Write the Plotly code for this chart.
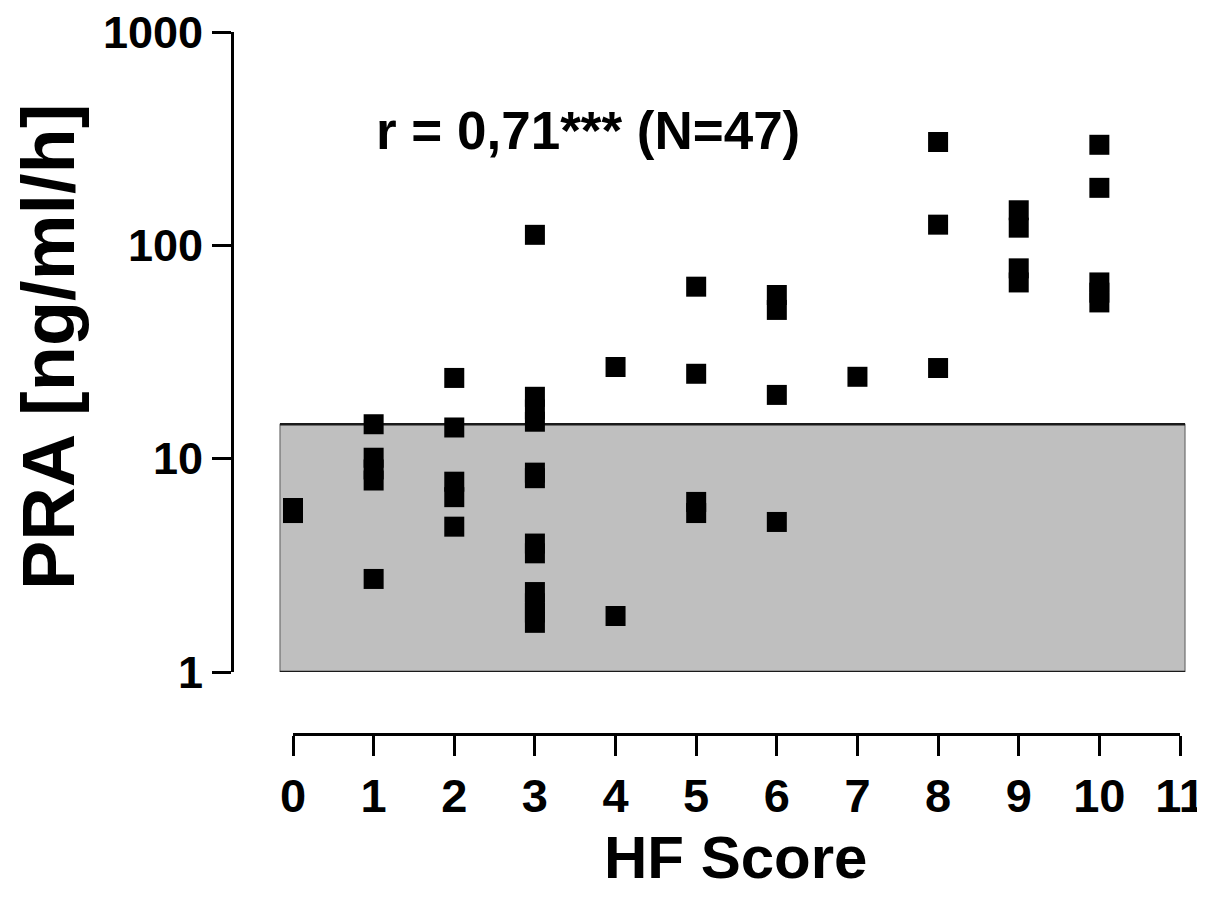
import plotly.graph_objects as go

# ---- data ----
hf_score = [0, 0,
            1, 1, 1, 1, 1,
            2, 2, 2, 2, 2,
            3, 3, 3, 3, 3, 3, 3, 3, 3, 3, 3, 3,
            4, 4,
            5, 5, 5, 5,
            6, 6, 6, 6,
            7,
            8, 8, 8,
            9, 9, 9, 9,
            10, 10, 10, 10, 10]
pra = [5.87, 5.56,
       14.5, 10.1, 8.9, 7.9, 2.73,
       23.9, 14.0, 7.8, 6.6, 4.8,
       112, 19.5, 17.0, 14.9, 8.6, 8.1, 4.0, 3.6, 2.37, 2.1, 1.9, 1.70,
       26.9, 1.83,
       64, 25, 6.27, 5.56,
       58.5, 49.8, 19.9, 5.05,
       24.2,
       305, 125, 26.6,
       146, 121, 78, 67,
       296, 186, 67, 60, 54]

normal_low = 1.0
normal_high = 14.5

x_ticks = list(range(0, 12))
y_tickvals = [1, 10, 100, 1000]
y_ticktext = ["1", "10", "100", "1000"]

annotation_text = "r = 0,71*** (N=47)"
x_title = "HF Score"
y_title = "PRA [ng/ml/h]"

# ---- layout geometry (page pixels; the page body has an 8px margin) ----
OFF = 8
W, H = 1205 - OFF, 905 - OFF
def px(x):
    return (x - OFF) / W
def py(y):
    return 1 - (y - OFF) / H

FONT = "Liberation Sans, Arial, Helvetica, sans-serif"

fig = go.Figure()

fig.add_trace(go.Scatter(
    x=hf_score, y=pra, mode="markers",
    marker=dict(symbol="square", size=20, color="black", line=dict(width=0)),
    showlegend=False, hoverinfo="x+y",
))
# empty trace to attach the visible, offset x axis
fig.add_trace(go.Scatter(x=[], y=[], xaxis="x2", yaxis="y", showlegend=False))

# normal-range band
fig.add_shape(type="rect", xref="x domain", yref="y", x0=0, x1=1,
              y0=normal_low, y1=normal_high, fillcolor="#bfbfbf",
              line=dict(color="#6e6e6e", width=1.2), layer="below")
fig.add_shape(type="line", xref="x domain", yref="y", x0=0, x1=1,
              y0=normal_high, y1=normal_high, line=dict(color="#1a1a1a", width=2.5), layer="below")
fig.add_shape(type="line", xref="x domain", yref="y", x0=0, x1=1,
              y0=normal_low, y1=normal_low, line=dict(color="#1a1a1a", width=2.5), layer="below")

unit = (1180 - 293) / 11.0
fig.update_layout(
    width=W, height=H,
    margin=dict(l=0, r=0, t=0, b=0),
    paper_bgcolor="white", plot_bgcolor="rgba(0,0,0,0)",
    font=dict(family=FONT, color="black"),
    xaxis=dict(
        domain=[px(280), px(1185)],
        range=[(280 - 293) / unit, 11 + (1185 - 1180) / unit],
        visible=False, showgrid=False, zeroline=False, fixedrange=True,
    ),
    xaxis2=dict(
        domain=[px(293), px(1180)], range=[0, 11],
        anchor="free", position=py(734), side="bottom",
        tickmode="array", tickvals=x_ticks, ticktext=[str(t) for t in x_ticks],
        ticks="outside", ticklen=20, tickwidth=3, tickcolor="black",
        showline=True, linecolor="black", linewidth=3,
        showgrid=False, zeroline=False, automargin=False,
        ticklabeloverflow="allow",
        tickfont=dict(family=FONT, size=47, color="black", weight="bold"),
    ),
    yaxis=dict(
        type="log", range=[0, 3],
        domain=[py(672), py(32)],
        anchor="free", position=px(232),
        tickmode="array", tickvals=y_tickvals, ticktext=y_ticktext,
        ticks="outside", ticklen=19, tickwidth=3, tickcolor="black",
        showline=True, linecolor="black", linewidth=3,
        showgrid=False, zeroline=False, automargin=False,
        ticklabeloverflow="allow",
        tickfont=dict(family=FONT, size=45, color="black", weight="bold"),
    ),
    annotations=[
        dict(text=annotation_text, xref="paper", yref="paper",
             x=px(588), y=py(130), showarrow=False,
             font=dict(family=FONT, size=53, color="black", weight="bold"),
             xanchor="center", yanchor="middle"),
        dict(text=x_title, xref="paper", yref="paper",
             x=px(735), y=py(857), showarrow=False,
             font=dict(family=FONT, size=60, color="black", weight="bold"),
             xanchor="center", yanchor="middle"),
        dict(text=y_title, xref="paper", yref="paper",
             x=px(48), y=py(347), showarrow=False, textangle=-90,
             font=dict(family=FONT, size=74, color="black", weight="bold"),
             xanchor="center", yanchor="middle"),
    ],
)

fig.write_html("out.html")
